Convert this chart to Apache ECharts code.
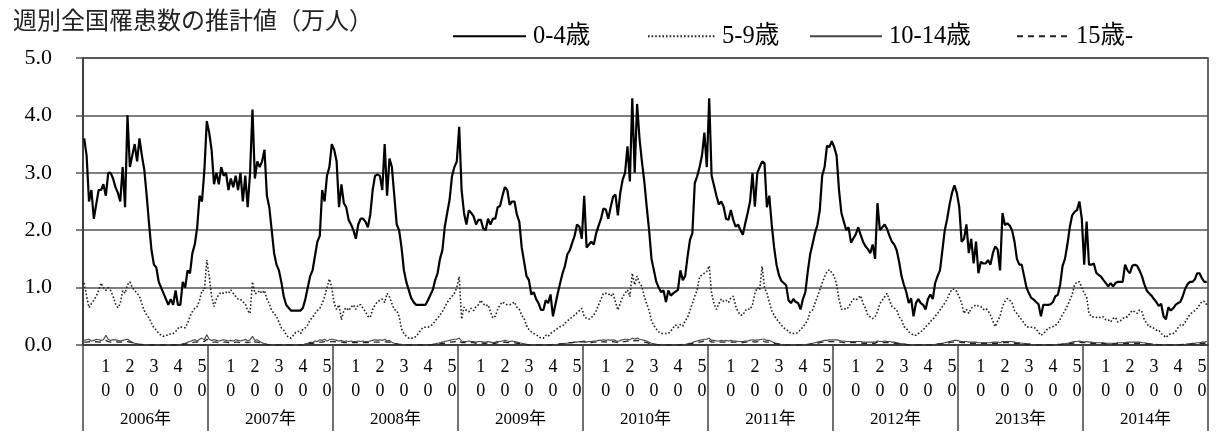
<!DOCTYPE html>
<html><head><meta charset="utf-8">
<script src="https://cdn.jsdelivr.net/npm/echarts@6/dist/echarts.min.js"></script>
<style>html,body{margin:0;padding:0;background:#fff}#c{width:1221px;height:434px}</style>
</head><body><div id="c"></div>
<script>
const years = [2006, 2007, 2008, 2009, 2010, 2011, 2012, 2013, 2014];
const weeksPerYear = 52;
const weekTickLabels = [10, 20, 30, 40, 50];
const yTicks = [0, 1, 2, 3, 4, 5];

const age0_4 = [
/*2006*/3.6,3.3,2.5,2.7,2.2,2.45,2.7,2.7,2.8,2.6,3.0,3.0,2.9,2.75,2.65,2.5,3.1,2.4,4.0,3.1,3.3,3.5,3.2,3.6,3.3,3.05,2.6,2.1,1.65,1.4,1.35,1.1,1.0,0.9,0.8,0.7,0.8,0.7,0.95,0.7,0.7,1.1,1.0,1.3,1.25,1.6,1.75,2.05,2.6,2.5,3.05,3.9,
/*2007*/3.7,3.4,2.8,3.0,2.8,3.1,2.95,3.0,2.7,2.9,2.75,2.95,2.7,3.0,2.5,2.95,2.4,3.0,4.1,2.9,3.2,3.1,3.2,3.4,2.6,2.4,2.0,1.6,1.4,1.3,1.1,0.85,0.7,0.65,0.6,0.6,0.6,0.6,0.6,0.65,0.8,1.0,1.2,1.3,1.55,1.8,1.9,2.7,2.5,2.95,3.1,3.5,
/*2008*/3.4,3.2,2.4,2.8,2.47,2.4,2.18,2.1,2.0,1.85,2.1,2.2,2.2,2.15,2.05,2.27,2.7,2.95,2.97,2.95,2.7,3.5,2.6,3.25,3.1,2.6,2.1,2.0,1.7,1.3,1.1,0.96,0.82,0.75,0.7,0.7,0.7,0.7,0.7,0.78,0.87,0.96,1.13,1.25,1.5,1.65,2.06,2.3,2.53,2.94,3.1,3.2,
/*2009*/3.8,2.7,2.3,2.1,2.35,2.3,2.24,2.1,2.18,2.18,2.03,2.0,2.2,2.1,2.2,2.2,2.4,2.42,2.6,2.75,2.7,2.44,2.5,2.5,2.27,2.15,1.7,1.45,1.2,1.13,0.88,0.92,0.8,0.73,0.61,0.61,0.78,0.73,0.88,0.5,0.7,0.9,1.08,1.25,1.38,1.58,1.65,1.78,1.9,2.1,2.06,1.85,
/*2010*/2.6,1.7,1.75,1.8,1.75,1.95,2.08,2.2,2.38,2.36,2.2,2.4,2.58,2.62,2.26,2.65,2.88,3.0,3.46,2.85,4.3,3.0,4.2,3.6,3.2,2.85,2.41,2.0,1.5,1.3,1.1,1.0,0.92,0.95,0.75,0.95,0.86,0.9,0.93,0.96,1.3,1.13,1.2,1.54,1.83,1.95,2.82,2.94,3.1,3.3,3.7,3.1,
/*2011*/4.3,2.95,2.78,2.6,2.45,2.5,2.41,2.2,2.18,2.35,2.18,2.06,2.1,2.0,1.92,2.12,2.3,2.5,3.0,2.41,3.0,3.1,3.2,3.17,2.4,2.6,2.1,1.7,1.4,1.22,1.12,1.08,1.04,0.78,0.73,0.8,0.75,0.73,0.62,0.8,0.92,1.28,1.58,1.76,1.95,2.09,2.35,2.95,3.1,3.47,3.45,3.55,
/*2012*/3.45,3.3,2.7,2.3,2.15,2.0,2.05,1.78,1.86,1.93,2.05,1.92,1.8,1.72,1.67,1.6,1.75,1.5,2.47,2.0,2.05,2.1,2.02,1.9,1.8,1.75,1.65,1.45,1.2,1.05,0.92,0.73,0.81,0.5,0.73,0.8,0.73,0.7,0.62,0.8,0.88,0.8,1.08,1.2,1.3,1.65,2.0,2.2,2.45,2.65,2.78,2.65,
/*2013*/2.41,1.8,1.85,2.1,1.6,1.85,1.42,1.8,1.25,1.45,1.42,1.42,1.48,1.4,1.6,1.72,1.66,1.3,2.3,2.09,2.12,2.08,2.0,1.8,1.5,1.4,1.4,1.2,1.0,0.9,0.82,0.79,0.75,0.71,0.5,0.7,0.7,0.7,0.71,0.75,0.85,0.87,1.05,1.38,1.5,1.75,2.05,2.26,2.32,2.35,2.5,2.2,
/*2014*/1.4,2.15,1.4,1.4,1.42,1.26,1.22,1.19,1.13,1.08,1.02,1.08,1.02,1.08,1.1,1.1,1.1,1.4,1.3,1.25,1.38,1.4,1.38,1.3,1.2,1.06,0.95,0.9,0.86,0.8,0.75,0.68,0.72,0.5,0.45,0.66,0.6,0.64,0.7,0.73,0.75,0.85,0.98,1.06,1.1,1.1,1.14,1.25,1.25,1.16,1.1,1.1
];

const age5_9 = [
/*2006*/1.08,0.85,0.65,0.72,0.78,0.85,0.95,1.08,1.0,0.95,1.0,0.95,0.85,0.72,0.65,0.72,0.95,0.9,1.05,1.1,1.0,0.95,0.9,0.85,0.72,0.6,0.52,0.47,0.38,0.3,0.26,0.2,0.17,0.15,0.17,0.17,0.2,0.2,0.23,0.29,0.32,0.3,0.3,0.38,0.5,0.58,0.64,0.67,0.78,0.95,0.95,1.48,
/*2007*/1.2,0.85,0.67,0.8,0.88,0.92,0.9,0.92,0.9,0.96,0.9,0.85,0.8,0.8,0.75,0.72,0.6,0.55,1.1,0.9,0.9,0.95,0.9,0.95,0.8,0.72,0.6,0.55,0.5,0.4,0.3,0.26,0.18,0.13,0.12,0.17,0.22,0.24,0.2,0.28,0.3,0.35,0.44,0.48,0.55,0.6,0.64,0.72,0.84,1.0,1.15,1.0,
/*2008*/0.72,0.62,0.7,0.44,0.6,0.65,0.6,0.66,0.7,0.62,0.7,0.7,0.64,0.58,0.5,0.48,0.62,0.7,0.75,0.78,0.8,0.74,0.9,0.84,0.72,0.62,0.6,0.5,0.28,0.2,0.15,0.12,0.12,0.12,0.15,0.2,0.26,0.31,0.31,0.31,0.33,0.36,0.42,0.47,0.52,0.58,0.66,0.74,0.8,0.85,0.9,1.0,
/*2009*/1.19,0.45,0.66,0.6,0.58,0.64,0.6,0.67,0.7,0.78,0.72,0.68,0.7,0.58,0.47,0.5,0.62,0.7,0.75,0.72,0.7,0.7,0.72,0.75,0.66,0.62,0.52,0.46,0.34,0.27,0.23,0.2,0.18,0.15,0.12,0.12,0.17,0.15,0.2,0.23,0.26,0.29,0.32,0.33,0.38,0.42,0.45,0.49,0.52,0.56,0.6,0.64,
/*2010*/0.5,0.46,0.45,0.48,0.52,0.6,0.7,0.8,0.9,0.9,0.9,0.85,0.9,0.75,0.61,0.73,0.84,0.9,0.96,0.84,1.25,1.05,1.2,1.08,1.02,0.84,0.72,0.6,0.42,0.34,0.28,0.23,0.2,0.2,0.2,0.2,0.24,0.3,0.35,0.3,0.36,0.33,0.42,0.48,0.6,0.72,0.85,0.96,1.19,1.22,1.25,1.28,
/*2011*/1.38,0.9,0.72,0.62,0.72,0.8,0.76,0.78,0.74,0.82,0.85,0.68,0.58,0.52,0.52,0.6,0.63,0.62,0.7,0.9,1.0,0.96,1.37,1.0,0.9,0.75,0.6,0.52,0.45,0.4,0.35,0.3,0.27,0.24,0.2,0.2,0.2,0.22,0.27,0.31,0.37,0.44,0.58,0.61,0.73,0.84,0.96,1.08,1.19,1.28,1.31,1.26,
/*2012*/1.2,1.05,0.8,0.62,0.64,0.62,0.66,0.74,0.8,0.78,0.82,0.86,0.72,0.64,0.52,0.49,0.46,0.49,0.58,0.72,0.78,0.84,0.9,0.78,0.67,0.64,0.61,0.49,0.44,0.32,0.29,0.23,0.2,0.17,0.17,0.2,0.23,0.26,0.32,0.35,0.41,0.44,0.5,0.55,0.61,0.67,0.73,0.8,0.9,0.97,0.97,0.93,
/*2013*/0.84,0.73,0.55,0.62,0.55,0.64,0.67,0.7,0.68,0.67,0.62,0.64,0.6,0.52,0.42,0.32,0.42,0.5,0.67,0.76,0.81,0.78,0.73,0.6,0.55,0.49,0.44,0.38,0.32,0.31,0.31,0.31,0.28,0.22,0.17,0.2,0.24,0.3,0.3,0.32,0.34,0.38,0.45,0.53,0.6,0.68,0.78,0.88,1.05,1.1,1.1,1.0,
/*2014*/0.9,0.84,0.55,0.49,0.49,0.48,0.49,0.47,0.49,0.44,0.44,0.4,0.46,0.48,0.4,0.42,0.46,0.49,0.49,0.55,0.6,0.58,0.55,0.61,0.58,0.44,0.38,0.32,0.32,0.29,0.26,0.26,0.2,0.17,0.13,0.17,0.2,0.2,0.23,0.3,0.35,0.34,0.4,0.47,0.53,0.57,0.6,0.64,0.7,0.76,0.76,0.7
];

const age10_14 = [
/*2006*/0.08,0.09,0.1,0.07,0.08,0.1,0.09,0.08,0.09,0.17,0.1,0.08,0.09,0.09,0.08,0.07,0.08,0.09,0.1,0.07,0.05,0.03,0.02,0.01,0,0,0,0,0,0,0,0,0,0,0,0,0,0,0,0,0.01,0.02,0.03,0.05,0.06,0.08,0.09,0.07,0.1,0.12,0.09,0.18,
/*2007*/0.1,0.08,0.09,0.08,0.07,0.08,0.09,0.08,0.07,0.08,0.07,0.09,0.08,0.07,0.08,0.1,0.07,0.09,0.15,0.08,0.09,0.06,0.04,0.02,0.01,0,0,0,0,0,0,0,0,0,0,0,0,0,0.01,0,0.02,0.03,0.05,0.04,0.07,0.06,0.09,0.08,0.1,0.07,0.09,0.1,
/*2008*/0.09,0.08,0.07,0.08,0.06,0.07,0.06,0.07,0.06,0.06,0.07,0.06,0.07,0.06,0.06,0.07,0.08,0.09,0.08,0.09,0.08,0.1,0.07,0.08,0.05,0.03,0.02,0.01,0,0,0,0,0,0,0,0,0,0,0,0,0,0.01,0.02,0.03,0.04,0.05,0.06,0.07,0.08,0.09,0.1,0.1,
/*2009*/0.12,0.07,0.06,0.06,0.07,0.06,0.06,0.05,0.06,0.06,0.05,0.05,0.06,0.05,0.04,0.05,0.06,0.06,0.07,0.08,0.07,0.06,0.07,0.06,0.05,0.04,0.03,0.02,0.01,0.01,0,0,0,0,0,0,0,0,0,0,0.01,0.01,0.02,0.02,0.03,0.03,0.04,0.04,0.05,0.05,0.06,0.06,
/*2010*/0.07,0.05,0.06,0.06,0.07,0.07,0.08,0.08,0.09,0.08,0.09,0.08,0.09,0.08,0.06,0.08,0.09,0.1,0.1,0.09,0.12,0.1,0.12,0.1,0.09,0.08,0.07,0.05,0.03,0.02,0.01,0.01,0,0,0,0,0,0,0,0,0.01,0.01,0.01,0.02,0.03,0.04,0.06,0.07,0.08,0.09,0.1,0.1,
/*2011*/0.12,0.08,0.08,0.07,0.07,0.08,0.07,0.08,0.07,0.08,0.07,0.07,0.06,0.06,0.06,0.07,0.07,0.08,0.09,0.08,0.09,0.09,0.1,0.1,0.08,0.08,0.06,0.04,0.03,0.02,0.01,0.01,0.01,0,0,0,0,0,0,0,0.01,0.01,0.02,0.03,0.04,0.05,0.06,0.07,0.08,0.08,0.09,0.09,
/*2012*/0.09,0.09,0.08,0.07,0.07,0.06,0.06,0.06,0.06,0.06,0.06,0.06,0.05,0.05,0.05,0.05,0.05,0.05,0.07,0.06,0.06,0.07,0.06,0.06,0.05,0.05,0.04,0.03,0.02,0.02,0.01,0.01,0,0,0,0,0,0,0,0,0.01,0.01,0.01,0.02,0.02,0.03,0.04,0.05,0.06,0.07,0.08,0.08,
/*2013*/0.07,0.06,0.06,0.06,0.05,0.05,0.05,0.05,0.04,0.04,0.04,0.04,0.04,0.04,0.05,0.05,0.05,0.04,0.06,0.06,0.06,0.06,0.06,0.05,0.04,0.04,0.03,0.03,0.02,0.02,0.01,0.01,0.01,0,0,0,0,0,0,0,0,0.01,0.01,0.02,0.02,0.03,0.04,0.05,0.06,0.06,0.07,0.06,
/*2014*/0.05,0.06,0.05,0.05,0.04,0.04,0.04,0.04,0.04,0.03,0.03,0.03,0.03,0.03,0.04,0.04,0.04,0.04,0.05,0.05,0.05,0.05,0.05,0.05,0.04,0.04,0.03,0.02,0.02,0.01,0.01,0.01,0,0,0,0,0,0,0,0,0.01,0.01,0.01,0.02,0.02,0.03,0.03,0.04,0.04,0.05,0.05,0.06
];

const age15plus = [
/*2006*/0.05,0.05,0.06,0.05,0.05,0.06,0.05,0.05,0.06,0.08,0.06,0.05,0.05,0.06,0.05,0.05,0.05,0.06,0.06,0.05,0.04,0.03,0.02,0.01,0.01,0,0,0,0,0,0,0,0,0,0,0,0,0,0,0,0,0.01,0.02,0.02,0.03,0.04,0.05,0.05,0.06,0.07,0.06,0.1,
/*2007*/0.07,0.05,0.05,0.05,0.04,0.05,0.05,0.05,0.04,0.05,0.04,0.05,0.05,0.04,0.05,0.05,0.04,0.05,0.09,0.05,0.05,0.04,0.03,0.02,0.01,0,0,0,0,0,0,0,0,0,0,0,0,0,0,0,0.01,0.02,0.03,0.03,0.04,0.04,0.05,0.05,0.06,0.05,0.06,0.06,
/*2008*/0.06,0.05,0.05,0.05,0.04,0.04,0.04,0.04,0.04,0.04,0.04,0.04,0.04,0.04,0.04,0.04,0.05,0.05,0.05,0.05,0.05,0.06,0.05,0.05,0.04,0.03,0.02,0.01,0.01,0,0,0,0,0,0,0,0,0,0,0,0,0.01,0.01,0.02,0.02,0.03,0.03,0.04,0.05,0.05,0.06,0.06,
/*2009*/0.08,0.04,0.04,0.04,0.04,0.04,0.04,0.03,0.04,0.04,0.03,0.03,0.04,0.03,0.03,0.03,0.04,0.04,0.04,0.05,0.04,0.04,0.04,0.04,0.03,0.03,0.02,0.01,0.01,0,0,0,0,0,0,0,0,0,0,0.01,0.01,0.01,0.02,0.02,0.03,0.03,0.04,0.04,0.05,0.05,0.05,0.06,
/*2010*/0.05,0.04,0.04,0.04,0.05,0.05,0.05,0.05,0.06,0.05,0.06,0.05,0.06,0.05,0.04,0.05,0.06,0.06,0.07,0.06,0.08,0.07,0.08,0.07,0.06,0.05,0.04,0.03,0.02,0.01,0.01,0,0,0,0,0,0,0,0,0,0,0.01,0.01,0.01,0.02,0.03,0.04,0.05,0.05,0.06,0.07,0.07,
/*2011*/0.08,0.05,0.05,0.05,0.05,0.05,0.05,0.05,0.05,0.05,0.05,0.05,0.04,0.04,0.04,0.05,0.05,0.05,0.06,0.05,0.06,0.06,0.07,0.06,0.05,0.05,0.04,0.03,0.02,0.01,0.01,0,0,0,0,0,0,0,0,0,0.01,0.01,0.01,0.02,0.03,0.03,0.04,0.05,0.05,0.06,0.06,0.06,
/*2012*/0.06,0.06,0.05,0.05,0.04,0.04,0.04,0.04,0.04,0.04,0.04,0.04,0.03,0.03,0.03,0.03,0.03,0.03,0.05,0.04,0.04,0.04,0.04,0.04,0.03,0.03,0.03,0.02,0.01,0.01,0.01,0,0,0,0,0,0,0,0,0,0,0.01,0.01,0.01,0.02,0.02,0.03,0.03,0.04,0.05,0.05,0.05,
/*2013*/0.05,0.04,0.04,0.04,0.03,0.03,0.03,0.03,0.03,0.03,0.03,0.03,0.03,0.03,0.03,0.03,0.03,0.03,0.04,0.04,0.04,0.04,0.04,0.03,0.03,0.03,0.02,0.02,0.01,0.01,0.01,0,0,0,0,0,0,0,0,0,0,0.01,0.01,0.01,0.02,0.02,0.03,0.03,0.04,0.04,0.05,0.04,
/*2014*/0.04,0.04,0.03,0.03,0.03,0.03,0.03,0.03,0.03,0.02,0.02,0.02,0.02,0.02,0.03,0.03,0.03,0.03,0.03,0.03,0.03,0.03,0.03,0.03,0.03,0.02,0.02,0.02,0.01,0.01,0.01,0,0,0,0,0,0,0,0,0,0,0.01,0.01,0.01,0.01,0.02,0.02,0.02,0.03,0.03,0.03,0.04
];

const seriesNames = ['0-4歳', '5-9歳', '10-14歳', '15歳-'];

const categories = [];
years.forEach(y => { for (let w = 1; w <= weeksPerYear; w++) categories.push(y + '-' + w); });
const yearLabels = years.map(y => y + '年');

const serif = "'Liberation Serif', 'Times New Roman', 'Noto Sans CJK JP', serif";

function legendFor(name, left, width) {
  return {
    data: [name], left: left, top: 24, padding: 0,
    itemWidth: width, itemHeight: 12,
    itemStyle: { opacity: 0 },
    textStyle: { fontFamily: serif, fontSize: 24.5, color: '#000', padding: [0, 0, 0, 2] }
  };
}

const chart = echarts.init(document.getElementById('c'), null, { renderer: 'canvas' });
chart.setOption({
  animation: false,
  backgroundColor: '#fff',
  title: {
    text: '週別全国罹患数の推計値（万人）',
    left: 8, top: 3,
    textStyle: { fontFamily: "'Noto Sans CJK JP', sans-serif", fontSize: 24, fontWeight: 'normal', color: '#222' }
  },
  legend: [
    legendFor(seriesNames[0], 452, 73),
    legendFor(seriesNames[1], 647, 67),
    legendFor(seriesNames[2], 809, 72),
    legendFor(seriesNames[3], 1016, 52)
  ],
  grid: { left: 83, right: 13, top: 58, bottom: 89, show: true, borderColor: '#333', borderWidth: 1.5 },
  xAxis: [
    {
      type: 'category', data: categories, boundaryGap: true, position: 'bottom',
      axisLine: { show: true, lineStyle: { color: '#333', width: 1.5 } },
      axisTick: { show: false },
      axisLabel: {
        interval: (idx) => weekTickLabels.indexOf(idx % weeksPerYear + 1) >= 0,
        formatter: (v) => v.split('-')[1].split('').join('\n'),
        fontFamily: serif, fontSize: 18, lineHeight: 23.5, margin: 11, color: '#000'
      },
      splitLine: { show: false }
    },
    {
      type: 'category', data: yearLabels, boundaryGap: true, position: 'bottom',
      axisLine: { show: false },
      axisTick: { show: true, interval: 0, length: 86, lineStyle: { color: '#444', width: 1.5 } },
      axisLabel: { interval: 0, margin: 66, fontFamily: serif, fontSize: 17, color: '#000' },
      splitLine: { show: false }
    }
  ],
  yAxis: {
    type: 'value', min: yTicks[0], max: yTicks[yTicks.length - 1], interval: 1,
    axisLine: { show: true, lineStyle: { color: '#333', width: 1.5 } },
    axisTick: { show: true, length: 7, lineStyle: { color: '#555', width: 1.5 } },
    axisLabel: { formatter: (v) => v.toFixed(1), fontFamily: serif, fontSize: 22, margin: 31, color: '#000' },
    splitLine: { show: true, lineStyle: { color: '#555', width: 1.6 } }
  },
  series: [
    { name: seriesNames[0], type: 'line', data: age0_4, symbol: 'none', color: '#000',
      lineStyle: { color: '#000', width: 2.2 }, z: 5 },
    { name: seriesNames[1], type: 'line', data: age5_9, symbol: 'none', color: '#222',
      lineStyle: { color: '#222', width: 1.6, type: [1.6, 2] }, z: 4 },
    { name: seriesNames[2], type: 'line', data: age10_14, symbol: 'none', color: '#444',
      lineStyle: { color: '#444', width: 1.1 }, z: 3 },
    { name: seriesNames[3], type: 'line', data: age15plus, symbol: 'none', color: '#222',
      lineStyle: { color: '#222', width: 1.3, type: [6, 5] }, z: 3 }
  ]
});
</script>
</body></html>
